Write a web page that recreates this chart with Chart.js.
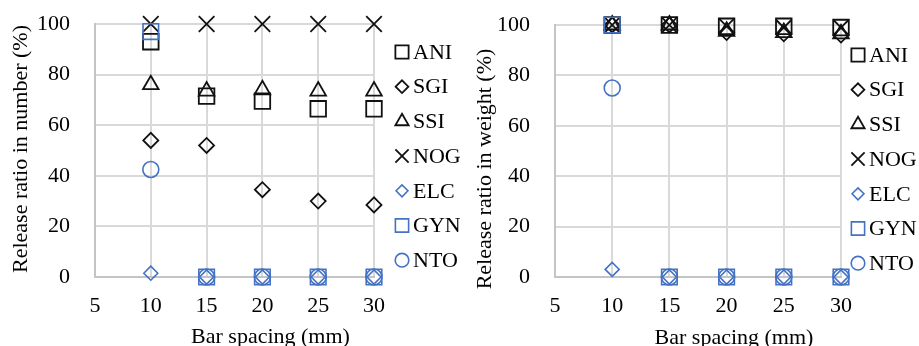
<!DOCTYPE html>
<html>
<head>
<meta charset="utf-8">
<script src="https://cdn.jsdelivr.net/npm/chart.js@4.4.0/dist/chart.umd.min.js"></script>
<style>
  html, body { margin: 0; padding: 0; background: #fff; }
  #wrap { position: relative; width: 919px; height: 346px; overflow: hidden; }
  canvas { position: absolute; top: 0; }
</style>
</head>
<body>
<div id="wrap">
  <canvas id="numChart" width="460" height="346" style="left:0"></canvas>
  <canvas id="wtChart" width="459" height="346" style="left:460px"></canvas>
</div>
<script>
  // bar spacing (mm)
  var spacing = [10, 15, 20, 25, 30];
  var seriesNames = ['ANI', 'SGI', 'SSI', 'NOG', 'ELC', 'GYN', 'NTO'];

  // release ratio in number (%)
  var numANI = [93, 71.5, 69.5, 66.5, 66.5];
  var numSGI = [54, 52, 34.5, 30, 28.5];
  var numSSI = [76, 73.5, 74, 73.5, 73.5];
  var numNOG = [100, 100, 100, 100, 100];
  var numELC = [1.5, 0, 0, 0, 0];
  var numGYN = [97, 0, 0, 0, 0];
  var numNTO = [42.5, 0, 0, 0, 0];

  // release ratio in weight (%)
  var wtANI = [100, 100, 99.5, 99.5, 99];
  var wtSGI = [100, 100, 97, 96.5, 96];
  var wtSSI = [100, 100, 97.5, 97, 96.5];
  var wtNOG = [100, 100, 99.5, 99, 99];
  var wtELC = [3, 0, 0, 0, 0];
  var wtGYN = [100, 0, 0, 0, 0];
  var wtNTO = [75, 0, 0, 0, 0];

  var xTicks = [5, 10, 15, 20, 25, 30];
  var yTicks = [0, 20, 40, 60, 80, 100];

  var BLACK = '#111111';
  var BLUE = '#4472C4';
  var FONT = '"Liberation Serif", "Times New Roman", serif';

  var markers = [
    { style: 'rect', color: BLACK, r: 11 },
    { style: 'rectRot', color: BLACK, r: 7.5 },
    { style: 'triangle', color: BLACK, r: 9 },
    { style: 'crossRot', color: BLACK, r: 11 },
    { style: 'rectRot', color: BLUE, r: 7 },
    { style: 'rect', color: BLUE, r: 11 },
    { style: 'circle', color: BLUE, r: 8 }
  ];

  function buildSets(list) {
    return list.map(function (vals, i) {
      var m = markers[i];
      return {
        label: seriesNames[i],
        data: vals.map(function (v, j) { return { x: spacing[j], y: v }; }),
        pointStyle: m.style,
        pointRadius: m.r,
        pointHoverRadius: m.r,
        borderColor: m.color,
        backgroundColor: 'rgba(0,0,0,0)',
        borderWidth: m.color === BLUE ? 1.6 : 1.8,
        showLine: false,
        clip: false,
        order: list.length - i
      };
    });
  }

  // axis titles and legend, drawn beside the plot like the Excel original
  var sideText = {
    id: 'sideText',
    afterDraw: function (chart, args, o) {
      var ctx = chart.ctx, area = chart.chartArea;
      ctx.save();
      ctx.font = '22px ' + FONT;
      ctx.fillStyle = '#000';
      ctx.textBaseline = 'middle';

      ctx.textAlign = 'center';
      ctx.fillText(o.xTitle, (area.left + area.right) / 2 + o.xShift, o.xTitleY);

      ctx.save();
      ctx.translate(o.yTitleX, o.yTitleY);
      ctx.rotate(-Math.PI / 2);
      ctx.fillText(o.yTitle, 0, 0);
      ctx.restore();

      ctx.textAlign = 'left';
      chart.data.datasets.forEach(function (ds, i) {
        var y = o.legendTop + i * o.legendStep;
        ctx.strokeStyle = ds.borderColor;
        ctx.fillStyle = 'rgba(0,0,0,0)';
        ctx.lineWidth = ds.borderWidth;
        Chart.helpers.drawPoint(ctx, {
          pointStyle: ds.pointStyle,
          radius: ds.pointRadius * 0.85,
          borderWidth: ds.borderWidth,
          rotation: 0
        }, o.legendX, y);
        ctx.fillStyle = '#000';
        ctx.fillText(ds.label, o.legendX + o.legendGap, y + 1);
      });
      ctx.restore();
    }
  };

  function makeChart(id, sets, pad, side) {
    return new Chart(document.getElementById(id), {
      type: 'scatter',
      data: { datasets: buildSets(sets) },
      plugins: [sideText],
      options: {
        responsive: false,
        animation: false,
        layout: { padding: pad },
        plugins: {
          legend: { display: false },
          tooltip: { enabled: false },
          sideText: side
        },
        scales: {
          x: {
            type: 'linear',
            min: xTicks[0],
            max: xTicks[xTicks.length - 1],
            afterFit: function (s) { s.height = 69; },
            ticks: { stepSize: xTicks[1] - xTicks[0], color: '#000', padding: 16, font: { family: FONT, size: 22 } },
            grid: { color: '#d9d9d9', lineWidth: 2, drawTicks: false },
            border: { color: '#c4c4c4', width: 2 }
          },
          y: {
            min: yTicks[0],
            max: yTicks[yTicks.length - 1],
            afterFit: function (s) { s.width = 95; s.paddingTop = 12; s.paddingBottom = 12; },
            ticks: { stepSize: yTicks[1] - yTicks[0], color: '#000', padding: 25, font: { family: FONT, size: 22 } },
            grid: { color: '#d9d9d9', lineWidth: 2, drawTicks: false },
            border: { color: '#c4c4c4', width: 2 }
          }
        }
      }
    });
  }

  makeChart('numChart',
    [numANI, numSGI, numSSI, numNOG, numELC, numGYN, numNTO],
    { top: 24, right: 86, bottom: 0, left: 0 },
    {
      xTitle: 'Bar spacing (mm)', xShift: 36, xTitleY: 337,
      yTitle: 'Release ratio in number (%)', yTitleX: 21, yTitleY: 149,
      legendX: 402, legendGap: 11, legendTop: 52, legendStep: 34.7
    });

  makeChart('wtChart',
    [wtANI, wtSGI, wtSSI, wtNOG, wtELC, wtGYN, wtNTO],
    { top: 25, right: 78, bottom: 0, left: 0 },
    {
      xTitle: 'Bar spacing (mm)', xShift: 36, xTitleY: 338,
      yTitle: 'Release ratio in weight (%)', yTitleX: 25, yTitleY: 169,
      legendX: 398, legendGap: 11, legendTop: 55, legendStep: 34.7
    });
</script>
</body>
</html>
